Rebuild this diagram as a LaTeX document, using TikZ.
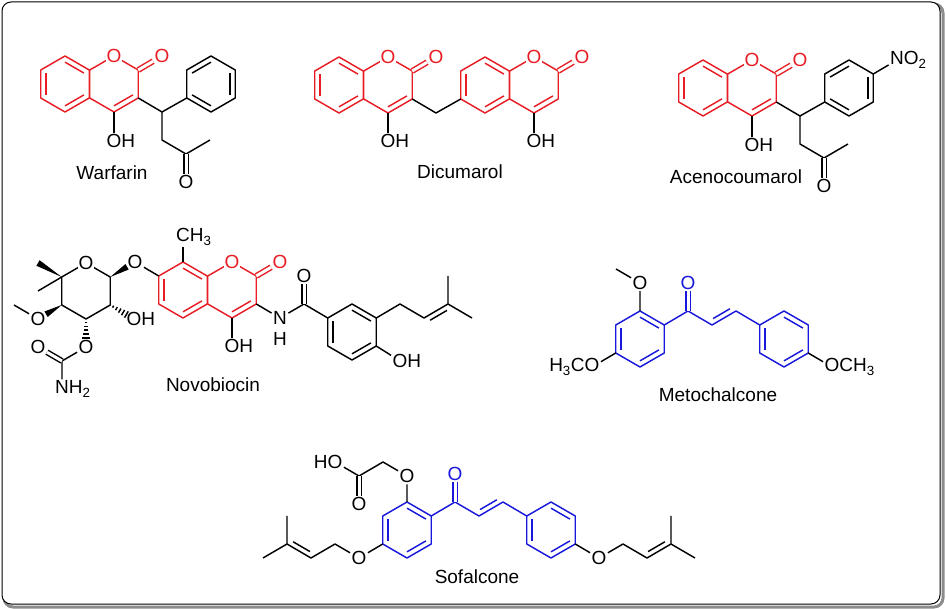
\documentclass[tikz,border=0pt]{standalone}
\usepackage{fontspec}
\setmainfont{Liberation Sans}
\usetikzlibrary{calc,positioning}

\newcommand\lab{\fontsize{19}{22}\selectfont}
\newcommand\sub[1]{\textsubscript{#1}}
\definecolor{cred}{RGB}{232,28,36}
\definecolor{cblue}{RGB}{24,24,220}

% hexagon with corners #1-1 (top) ... #1-6 (clockwise)
\newcommand\hexat[2]{%
  \coordinate (#1) at (#2);
  \coordinate (#1-1) at ($(#1)+(0,-28)$);
  \coordinate (#1-2) at ($(#1)+(24.25,-14)$);
  \coordinate (#1-3) at ($(#1)+(24.25,14)$);
  \coordinate (#1-4) at ($(#1)+(0,28)$);
  \coordinate (#1-5) at ($(#1)+(-24.25,14)$);
  \coordinate (#1-6) at ($(#1)+(-24.25,-14)$);
  \draw (#1-1) -- (#1-2) -- (#1-3) -- (#1-4) -- (#1-5) -- (#1-6) -- cycle;}
\newcommand\inb[3]{\draw ($(#1)!0.78!(#1-#2)$) -- ($(#1)!0.78!(#1-#3)$);}
\newcommand\arom[1]{\inb{#1}{1}{2}\inb{#1}{3}{4}\inb{#1}{5}{6}}
\newcommand\aromb[1]{\inb{#1}{6}{1}\inb{#1}{2}{3}\inb{#1}{4}{5}}
% second line of a chain double bond, on side #3 (90 or -90)
\newcommand\sidebond[3]{%
  \coordinate (sbA) at ($(#1)!5pt!#3:(#2)$);
  \coordinate (sbB) at ($(sbA)+(#2)-(#1)$);
  \draw ($(sbA)!0.15!(sbB)$) -- ($(sbA)!0.85!(sbB)$);}
\newcommand\hashb[2]{%
  \foreach \t in {0.12,0.26,0.40,0.54,0.68}{%
    \pgfmathsetmacro\hw{0.6+\t*4.5}
    \coordinate (hb) at ($(#1)!\t!(#2)$);
    \draw ($(hb)!\hw pt!90:(#2)$) -- ($(hb)!\hw pt!-90:(#2)$);}}
\newcommand\wedgeb[2]{\fill (#1) -- ($(#2)!3.2pt!90:(#1)$) -- ($(#2)!3.2pt!-90:(#1)$) -- cycle;}

\tikzset{
  atom/.style={inner sep=0.8pt, font=\lab},
  ringO/.style={atom, fill=white},
  dbl/.style={double, double distance=3pt},
  molname/.style={font=\lab},
}

\begin{document}
\begin{tikzpicture}[x=1pt, y=-1pt, line width=1.45pt, line join=round]
\useasboundingbox (0,0) rectangle (946,609);
\draw[rounded corners=9pt, line width=3pt, black!45] (4,4) rectangle (943,607);
\draw[rounded corners=9pt, line width=1pt, fill=white] (2,2) rectangle (940,604);

% Warfarin
\begin{scope}[cred]
  \hexat{wA}{65,84} \arom{wA}
  \hexat{wB}{114,84} \inb{wB}{3}{4}
  \node[ringO] (wO1) at (wB-1) {O};
  \node[atom] (wO2) at (162,56) {O};
  \draw[dbl] (wB-2) -- (wO2);
\end{scope}
\node[atom] (wOH) at (114,141) {O\rlap{H}};
\draw (wB-4) -- (wOH);
\hexat{wP}{211,84} \aromb{wP}
\coordinate (wC1) at (162,112);
\coordinate (wC2) at (162,140);
\coordinate (wC3) at (186,154);
\coordinate (wMe) at (210,140);
\node[atom] (wO3) at (186,182) {O};
\draw (wB-3) -- (wC1) -- (wP-5);
\draw (wC1) -- (wC2) -- (wC3) -- (wMe);
\draw[dbl] (wC3) -- (wO3);
\node[molname] (wname) at (112,173) {Warfarin};

% Dicumarol
\begin{scope}[cred]
  \hexat{dA}{339,85} \arom{dA}
  \hexat{dB}{388,85} \inb{dB}{3}{4}
  \node[ringO] (dO1) at (dB-1) {O};
  \node[atom] (dO2) at (436,57) {O};
  \draw[dbl] (dB-2) -- (dO2);
  \hexat{dC}{485,85} \arom{dC}
  \hexat{dD}{534,85} \inb{dD}{3}{4}
  \node[ringO] (dO3) at (dD-1) {O};
  \node[atom] (dO4) at (582,57) {O};
  \draw[dbl] (dD-2) -- (dO4);
\end{scope}
\coordinate (dCH2) at (436,113);
\draw (dB-3) -- (dCH2) -- (dC-5);
\node[atom] (dOH1) at (388,141) {O\rlap{H}};
\node[atom] (dOH2) at (534,141) {O\rlap{H}};
\draw (dB-4) -- (dOH1);
\draw (dD-4) -- (dOH2);
\node[molname] (dname) at (460,172) {Dicumarol};

% Acenocoumarol
\begin{scope}[cred]
  \hexat{aA}{703,88} \arom{aA}
  \hexat{aB}{752,88} \inb{aB}{3}{4}
  \node[ringO] (aO1) at (aB-1) {O};
  \node[atom] (aO2) at (800,60) {O};
  \draw[dbl] (aB-2) -- (aO2);
\end{scope}
\node[atom] (aOH) at (752,145) {O\rlap{H}};
\draw (aB-4) -- (aOH);
\hexat{aP}{849,88} \aromb{aP}
\node[atom] (aN) at (897,60) {N\rlap{O\sub{2}}};
\draw (aP-2) -- (aN);
\coordinate (aC1) at (800,116);
\coordinate (aC2) at (800,144);
\coordinate (aC3) at (824,158);
\coordinate (aMe) at (848,144);
\node[atom] (aO3) at (824,186) {O};
\draw (aB-3) -- (aC1) -- (aP-5);
\draw (aC1) -- (aC2) -- (aC3) -- (aMe);
\draw[dbl] (aC3) -- (aO3);
\node[molname] (aname) at (736,177) {Acenocoumarol};

% Novobiocin
\begin{scope}[cred]
  \hexat{nA}{183,290} \arom{nA}
  \hexat{nB}{232,290} \inb{nB}{3}{4}
  \node[ringO] (nO1) at (nB-1) {O};
  \node[atom] (nO2) at (280,262) {O};
  \draw[dbl] (nB-2) -- (nO2);
\end{scope}
\node[atom] (nMe) at (183,237) {C\rlap{H\sub{3}}};
\draw (nA-1) -- (nMe);
\node[atom] (nOH1) at (232,346) {O\rlap{H}};
\draw (nB-4) -- (nOH1);
\node[atom] (nN) at (280,318) {N};
\node[atom] (nH) at (280,339) {H};
\draw (nB-3) -- (nN);
\coordinate (nCam) at (304,304);
\node[atom] (nO3) at (304,276) {O};
\hexat{nR}{352,332} \arom{nR}
\draw (nN) -- (nCam) -- (nR-6);
\draw[dbl] (nCam) -- (nO3);
\coordinate (nP1) at (400,304);
\coordinate (nP2) at (424,318);
\coordinate (nP3) at (448,304);
\coordinate (nP4) at (448,276);
\coordinate (nP5) at (472,318);
\draw (nR-2) -- (nP1) -- (nP2) -- (nP3) -- (nP4);
\draw (nP3) -- (nP5);
\sidebond{nP2}{nP3}{-90}
\node[atom] (nOH2) at (400,361) {O\rlap{H}};
\draw (nR-3) -- (nOH2);
% sugar
\hexat{nS}{86,291}
\node[ringO] (nO4) at (nS-1) {O};
\node[atom] (nO5) at (135,262) {O};
\draw (nO5) -- (nA-6);
\wedgeb{nS-2}{$(nS-2)!0.68!(nO5)$}
\coordinate (nM1) at (38,263);
\coordinate (nM2) at (38,291);
\wedgeb{nS-6}{nM1}
\draw (nS-6) -- (nM2);
\node[atom] (nOH3) at (134,319) {O\rlap{H}};
\hashb{nS-3}{nOH3}
\node[atom] (nO6) at (38,319) {O};
\wedgeb{nS-5}{$(nS-5)!0.66!(nO6)$}
\coordinate (nM3) at (14,305);
\draw (nO6) -- (nM3);
\node[atom] (nO7) at (86,347) {O};
\hashb{nS-4}{nO7}
\coordinate (nCc) at (62,361);
\node[atom] (nO8) at (38,347) {O};
\node[atom] (nNH2) at (62,389) {N\rlap{H\sub{2}}};
\draw (nO7) -- (nCc) -- (nNH2);
\draw[dbl] (nCc) -- (nO8);
\node[molname] (nname) at (213,385) {Novobiocin};

% Metochalcone
\begin{scope}[cblue]
  \hexat{mA}{640,339} \arom{mA}
  \hexat{mB}{784,339} \arom{mB}
  \coordinate (mC1) at (688,311);
  \coordinate (mC2) at (712,325);
  \coordinate (mC3) at (736,311);
  \node[atom] (mO1) at (688,283) {O};
  \draw (mA-2) -- (mC1) -- (mC2) -- (mC3) -- (mB-6);
  \draw[dbl] (mC1) -- (mO1);
  \sidebond{mC2}{mC3}{90}
\end{scope}
\node[atom] (mO2) at (640,283) {O};
\coordinate (mMe) at (616,269);
\draw (mA-1) -- (mO2) -- (mMe);
\node[atom] (mO3) at (592,367) {\llap{H\sub{3}C}O};
\draw (mA-5) -- (mO3);
\node[atom] (mO4) at (832,367) {O\rlap{CH\sub{3}}};
\draw (mB-3) -- (mO4);
\node[molname] (mname) at (718,395) {Metochalcone};

% Sofalcone
\begin{scope}[cblue]
  \hexat{sA}{407,530} \arom{sA}
  \hexat{sB}{551,530} \arom{sB}
  \coordinate (sC1) at (455,502);
  \coordinate (sC2) at (479,516);
  \coordinate (sC3) at (503,502);
  \node[atom] (sO1) at (455,474) {O};
  \draw (sA-2) -- (sC1) -- (sC2) -- (sC3) -- (sB-6);
  \draw[dbl] (sC1) -- (sO1);
  \sidebond{sC2}{sC3}{90}
\end{scope}
\node[atom] (sO2) at (407,476) {O};
\coordinate (sG1) at (383,462);
\coordinate (sG2) at (359,476);
\node[atom] (sHO) at (335,462) {\llap{H}O};
\node[atom] (sO3) at (359,504) {O};
\draw (sA-1) -- (sO2) -- (sG1) -- (sG2) -- (sHO);
\draw[dbl] (sG2) -- (sO3);
\node[atom] (sO4) at (359,558) {O};
\coordinate (sL1) at (335,544);
\coordinate (sL2) at (311,558);
\coordinate (sL3) at (287,544);
\coordinate (sL4) at (287,516);
\coordinate (sL5) at (263,558);
\draw (sA-5) -- (sO4) -- (sL1) -- (sL2) -- (sL3) -- (sL4);
\draw (sL3) -- (sL5);
\sidebond{sL2}{sL3}{-90}
\node[atom] (sO5) at (599,558) {O};
\coordinate (sR1) at (623,544);
\coordinate (sR2) at (647,558);
\coordinate (sR3) at (671,544);
\coordinate (sR4) at (671,516);
\coordinate (sR5) at (695,558);
\draw (sB-3) -- (sO5) -- (sR1) -- (sR2) -- (sR3) -- (sR4);
\draw (sR3) -- (sR5);
\sidebond{sR2}{sR3}{90}
\node[molname] (sname) at (477,577) {Sofalcone};

\end{tikzpicture}
\end{document}
